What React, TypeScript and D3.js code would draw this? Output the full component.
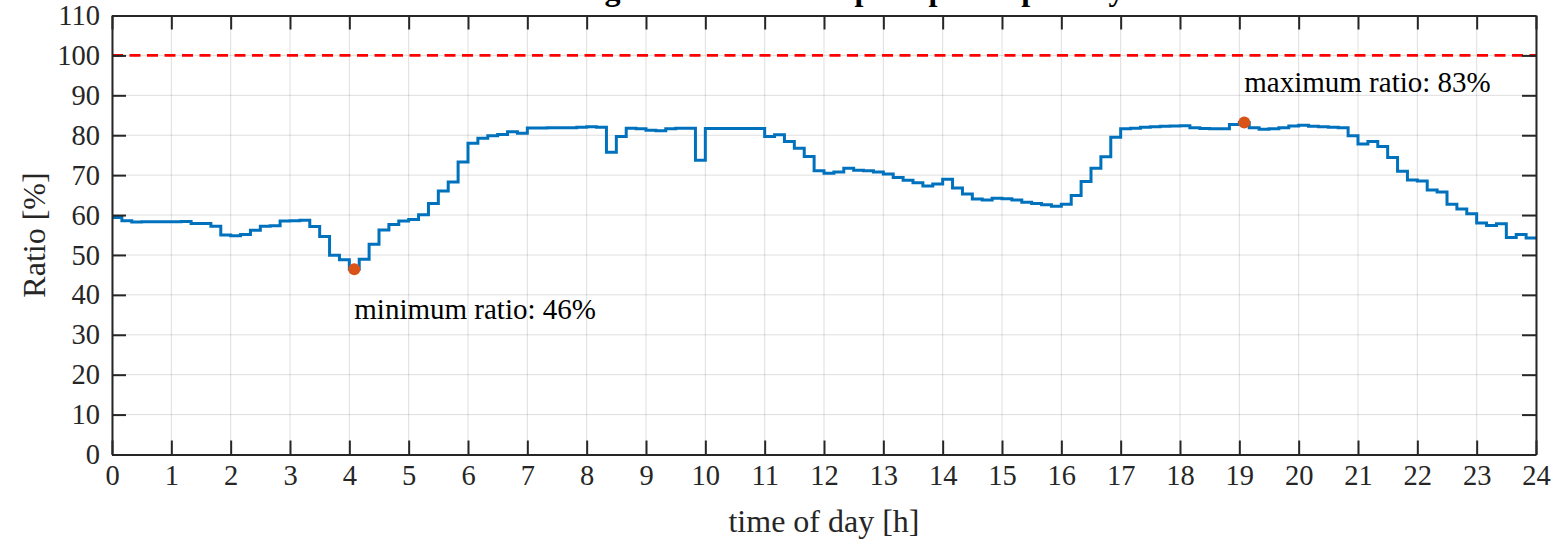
import React, { useEffect, useRef } from 'react'
import * as d3 from 'd3'

// chart size and plot box (pixels)
const W = 1568
const H = 542
const margin = { left: 112, right: 32, top: 15.5, bottom: 87.5 }

const titleText = 'Average load relative to peak power per day'
const xLabel = 'time of day [h]'
const yLabel = 'Ratio [%]'

const hourTicks = [0, 1, 2, 3, 4, 5, 6, 7, 8, 9, 10, 11, 12, 13, 14, 15, 16, 17, 18, 19, 20, 21, 22, 23, 24]
const ratioTicks = [0, 10, 20, 30, 40, 50, 60, 70, 80, 90, 100, 110]

const stepMinutes = 10
const limitRatio = 100

// ratio per 10-minute slot
const ratio = [
  59.4, 58.6, 58.25, 58.3, 58.3, 58.3, 58.35, 58.4, 57.9, 57.9, 57.2, 55.0,
  54.8, 55.1, 56.2, 57.2, 57.3, 58.5, 58.6, 58.7, 57.1, 54.6, 49.9, 48.8,
  46.4, 48.9, 52.7, 56.25, 57.6, 58.5, 58.9, 60.1, 62.9, 66.0, 68.3, 73.3,
  78.0, 79.25, 79.9, 80.2, 80.9, 80.5, 81.8, 81.8, 81.9, 81.9, 81.9, 82.0,
  82.1, 82.0, 75.75, 79.7, 81.75, 81.6, 81.25, 81.1, 81.6, 81.75, 81.75, 73.7,
  81.7, 81.7, 81.7, 81.7, 81.7, 81.7, 79.7, 80.1, 78.4, 76.75, 74.7, 71.1,
  70.5, 70.8, 71.75, 71.25, 71.1, 70.8, 70.3, 69.4, 68.75, 68.1, 67.3, 67.8,
  69.0, 66.75, 65.3, 64.0, 63.8, 64.2, 64.1, 63.8, 63.2, 62.9, 62.6, 62.2,
  62.7, 64.9, 68.4, 71.7, 74.6, 79.5, 81.6, 81.75, 82.0, 82.1, 82.25, 82.3,
  82.4, 81.9, 81.7, 81.6, 81.6, 82.7, 83.2, 81.9, 81.5, 81.6, 81.9, 82.3,
  82.5, 82.25, 82.1, 82.0, 81.9, 79.9, 77.8, 78.4, 77.2, 74.4, 71.0, 68.8,
  68.5, 66.3, 65.75, 62.7, 61.5, 60.3, 58.0, 57.4, 57.8, 54.4, 55.1, 54.25
]

const axisColor = '#262626'
const fontFam = '"Liberation Serif", "Times New Roman", serif'

function Chart() {
  const ref = useRef<SVGSVGElement>(null)

  useEffect(() => {
    const svg = d3.select(ref.current)
    svg.selectAll('*').remove()

    const x = d3.scaleLinear().domain([0, 24]).range([margin.left, W - margin.right])
    const y = d3.scaleLinear().domain([0, 110]).range([H - margin.bottom, margin.top])
    const pw = W - margin.left - margin.right
    const ph = H - margin.top - margin.bottom
    const tick = 14

    // grid
    const grid = svg.append('g').attr('stroke', axisColor).attr('stroke-opacity', 0.15).attr('stroke-width', 1)
    grid.selectAll('line.v').data(hourTicks).enter().append('line')
      .attr('x1', d => x(d)).attr('x2', d => x(d))
      .attr('y1', margin.top).attr('y2', H - margin.bottom)
    grid.selectAll('line.h').data(ratioTicks).enter().append('line')
      .attr('x1', margin.left).attr('x2', W - margin.right)
      .attr('y1', d => y(d)).attr('y2', d => y(d))

    // 100% limit
    svg.append('line')
      .attr('x1', x(0)).attr('x2', x(24))
      .attr('y1', y(limitRatio)).attr('y2', y(limitRatio))
      .attr('stroke', '#ff0000').attr('stroke-width', 2.6)
      .attr('stroke-dasharray', '11,6.5')

    // step series
    const pts: [number, number][] = ratio.map((v, i) => [i * stepMinutes / 60, v])
    pts.push([24, ratio[ratio.length - 1]])
    const line = d3.line<[number, number]>()
      .x(d => x(d[0])).y(d => y(d[1]))
      .curve(d3.curveStepAfter)
    svg.append('path')
      .datum(pts)
      .attr('fill', 'none')
      .attr('stroke', '#0072BD')
      .attr('stroke-width', 3)
      .attr('d', line)

    // min / max markers
    const iMin = d3.minIndex(ratio)
    const iMax = d3.maxIndex(ratio)
    const marks = [
      { i: iMin, label: 'minimum ratio: ' + Math.round(ratio[iMin]) + '%', dy: 50 },
      { i: iMax, label: 'maximum ratio: ' + Math.round(ratio[iMax]) + '%', dy: -30 }
    ]
    marks.forEach(m => {
      const t = (m.i + 0.5) * stepMinutes / 60
      svg.append('circle')
        .attr('cx', x(t)).attr('cy', y(ratio[m.i])).attr('r', 6)
        .attr('fill', '#D95319')
      svg.append('text')
        .attr('x', x(t)).attr('y', y(ratio[m.i]) + m.dy)
        .attr('font-family', fontFam).attr('font-size', 29)
        .attr('fill', '#000')
        .text(m.label)
    })

    // axes (ticks inside on all four sides)
    const bottom = svg.append('g')
      .attr('transform', 'translate(0,' + (H - margin.bottom) + ')')
      .call(d3.axisBottom(x).tickValues(hourTicks).tickSizeInner(-tick).tickSizeOuter(0).tickPadding(10).tickFormat(d3.format('d')))
    const left = svg.append('g')
      .attr('transform', 'translate(' + margin.left + ',0)')
      .call(d3.axisLeft(y).tickValues(ratioTicks).tickSizeInner(-tick).tickSizeOuter(0).tickPadding(12).tickFormat(d3.format('d')))
    const top = svg.append('g')
      .attr('transform', 'translate(0,' + margin.top + ')')
      .call(d3.axisTop(x).tickValues(hourTicks).tickSizeInner(-tick).tickSizeOuter(0).tickFormat(() => ''))
    const right = svg.append('g')
      .attr('transform', 'translate(' + (W - margin.right) + ',0)')
      .call(d3.axisRight(y).tickValues(ratioTicks).tickSizeInner(-tick).tickSizeOuter(0).tickFormat(() => ''))

    ;[bottom, left, top, right].forEach(g => {
      g.selectAll('path, line').attr('stroke', axisColor).attr('stroke-width', 2)
      g.selectAll('text').attr('fill', axisColor).attr('font-family', fontFam).attr('font-size', 28.5)
    })

    // labels
    svg.append('text')
      .attr('x', margin.left + pw / 2).attr('y', H - 10)
      .attr('text-anchor', 'middle')
      .attr('font-family', fontFam).attr('font-size', 32).attr('fill', axisColor)
      .text(xLabel)
    svg.append('text')
      .attr('transform', 'translate(45,' + (margin.top + ph / 2) + ') rotate(-90)')
      .attr('text-anchor', 'middle')
      .attr('font-family', fontFam).attr('font-size', 32).attr('fill', axisColor)
      .text(yLabel)
    svg.append('text')
      .attr('x', margin.left + pw / 2).attr('y', 0)
      .attr('text-anchor', 'middle')
      .attr('font-family', fontFam).attr('font-size', 32).attr('font-weight', 'bold').attr('fill', '#000')
      .text(titleText)
  }, [])

  return <svg ref={ref} width={W} height={H} style={{ display: 'block', background: '#fff' }} />
}

export default function App() {
  useEffect(() => {
    document.body.style.margin = '0'
  }, [])
  return <Chart />
}
